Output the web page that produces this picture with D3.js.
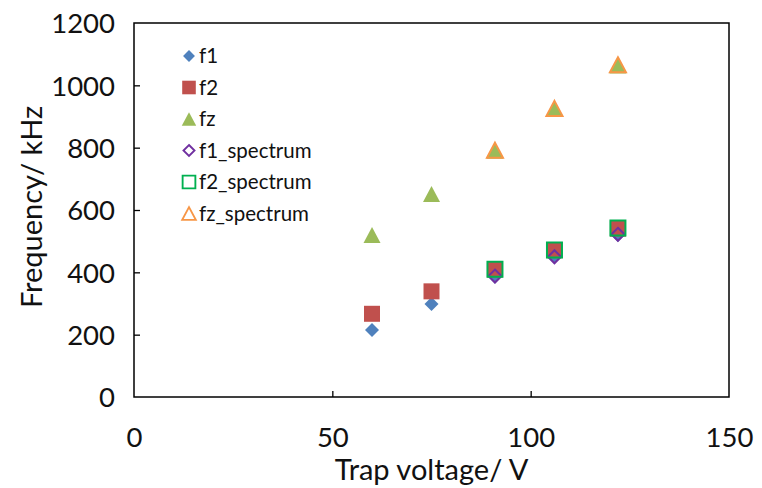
<!DOCTYPE html>
<html><head><meta charset="utf-8">
<script src="https://cdn.jsdelivr.net/npm/d3@7"></script>
<style>body{margin:0;background:#fff}svg{display:block}text{font-family:Lato,"Open Sans",sans-serif;fill:#111}</style>
</head><body><svg id="c" width="762" height="488"></svg>
<script>
const voltage = [60, 75, 91, 106, 122];
const f1 = [215, 298, 386, 449, 520];
const f2 = [267, 339, 409, 471, 540];
const fz = [520, 651, 790, 924, 1064];
const voltageSpectrum = [91, 106, 122];
const f1Spectrum = [388, 450, 522];
const f2Spectrum = [410, 472, 542];
const fzSpectrum = [792, 926, 1066];
const xTicks = [0, 50, 100, 150];
const yTicks = [0, 200, 400, 600, 800, 1000, 1200];
const seriesNames = ["f1", "f2", "fz", "f1_spectrum", "f2_spectrum", "fz_spectrum"];

const svg = d3.select("#c");
const L = 134, R = 729, T = 23, B = 397;
const x = d3.scaleLinear().domain([0, 150]).range([L, R]);
const y = d3.scaleLinear().domain([0, 1200]).range([B, T]);

const series = [
  {name: seriesNames[0], xs: voltage, ys: f1, shape: "diamond", fill: "#4F81BD", stroke: "none"},
  {name: seriesNames[1], xs: voltage, ys: f2, shape: "square", fill: "#C0504D", stroke: "none"},
  {name: seriesNames[2], xs: voltage, ys: fz, shape: "triangle", fill: "#9BBB59", stroke: "none"},
  {name: seriesNames[3], xs: voltageSpectrum, ys: f1Spectrum, shape: "diamond", fill: "none", stroke: "#7030A0"},
  {name: seriesNames[4], xs: voltageSpectrum, ys: f2Spectrum, shape: "square", fill: "none", stroke: "#00B050"},
  {name: seriesNames[5], xs: voltageSpectrum, ys: fzSpectrum, shape: "triangle", fill: "none", stroke: "#F79646"}
];

function shapePath(shape, filled) {
  if (shape === "diamond") { const r = filled ? 7 : 6.5; return `M0,${-r}L${r},0L0,${r}L${-r},0Z`; }
  if (shape === "square") { const r = filled ? 8 : 7.5; return `M${-r},${-r}H${r}V${r}H${-r}Z`; }
  const w = filled ? 8.5 : 8, h = filled ? 8 : 7.5;
  return `M0,${-h}L${w},${h}L${-w},${h}Z`;
}

// axes
const xAxis = d3.axisBottom(x).tickValues(xTicks).tickSize(-6).tickPadding(0).tickFormat(d3.format("d"));
const yAxis = d3.axisLeft(y).tickValues(yTicks).tickSize(-6).tickPadding(0).tickFormat(d3.format("d"));
const gx = svg.append("g").attr("transform", `translate(0,${B})`).call(xAxis);
const gy = svg.append("g").attr("transform", `translate(${L},0)`).call(yAxis);
[gx, gy].forEach(g => {
  g.select(".domain").remove();
  g.selectAll(".tick line").attr("stroke", "#000").attr("stroke-width", 1.3);
  g.selectAll(".tick text").style("font-size", "27.5px").attr("fill", "#111");
});
gx.selectAll(".tick text").attr("y", 50).attr("dy", 0);
gy.selectAll(".tick text").attr("x", -19).attr("dy", "0.36em");
gx.selectAll(".tick").filter(d => d === 0 || d === 150).select("line").remove();
gy.selectAll(".tick").filter(d => d === 0 || d === 1200).select("line").remove();

svg.append("rect").attr("x", L).attr("y", T).attr("width", R - L).attr("height", B - T)
  .attr("fill", "none").attr("stroke", "#000").attr("stroke-width", 1.5);

// points
series.forEach(s => {
  svg.append("g").selectAll("path").data(s.xs.map((v, i) => [v, s.ys[i]])).join("path")
    .attr("transform", d => `translate(${x(d[0])},${y(d[1])})`)
    .attr("d", shapePath(s.shape, s.fill !== "none"))
    .attr("fill", s.fill).attr("stroke", s.stroke).attr("stroke-width", s.fill === "none" ? 2 : 0);
});

// legend
const lg = svg.append("g");
series.forEach((s, i) => {
  const ly = 56 + i * 31.5;
  const sc = 0.85;
  lg.append("path").attr("transform", `translate(189,${ly}) scale(${sc})`)
    .attr("d", shapePath(s.shape, s.fill !== "none"))
    .attr("fill", s.fill).attr("stroke", s.stroke).attr("stroke-width", s.fill === "none" ? 2.2 : 0);
  lg.append("text").attr("x", 199).attr("y", ly).attr("dy", "0.35em").style("font-size", "20.5px").text(s.name);
});

// axis titles
svg.append("text").attr("x", (L + R) / 2).attr("y", 480).attr("text-anchor", "middle").style("font-size", "29px").text("Trap voltage/ V");
svg.append("text").attr("transform", `translate(42,207) rotate(-90)`).attr("text-anchor", "middle").style("font-size", "29px").text("Frequency/ kHz");
</script></body></html>
